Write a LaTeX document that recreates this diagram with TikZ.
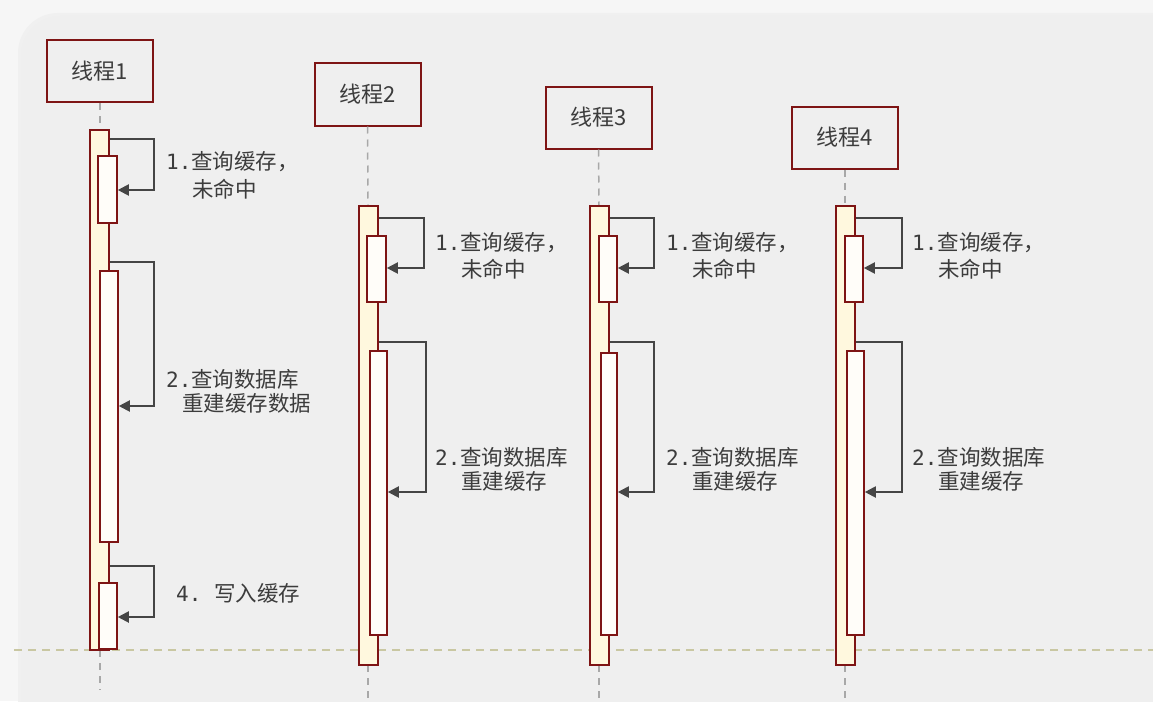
\documentclass[tikz,border=0pt]{standalone}
\usepackage{fontspec}
\newfontfamily\cjk{Noto Sans CJK SC}
\newfontfamily\mono{DejaVu Sans Mono}
\usetikzlibrary{arrows.meta}
\definecolor{pagebg}{HTML}{F6F6F6}
\definecolor{panelbg}{HTML}{EFEFEF}
\definecolor{barred}{HTML}{7E1414}
\definecolor{barfill}{HTML}{FFF8DE}
\definecolor{innerfill}{HTML}{FFFDF9}
\definecolor{txt}{HTML}{3C3C3C}
\definecolor{arr}{HTML}{454545}
\definecolor{lifegray}{HTML}{A8A8A8}
\definecolor{khaki}{HTML}{C9C7A2}
\newcommand{\nm}[1]{{\mono\fontsize{21}{24}\selectfont #1}}
\tikzset{
  head/.style={draw=barred, line width=2pt, fill=panelbg, minimum width=106pt, minimum height=62pt, inner sep=0pt, font=\cjk\fontsize{22}{26}\selectfont, text=txt},
  outerbar/.style={draw=barred, line width=1.6pt, fill=barfill, inner sep=0pt},
  innerbar/.style={draw=barred, line width=1.6pt, fill=innerfill, inner sep=0pt},
  life/.style={draw=lifegray, line width=1.5pt, dash pattern=on 7pt off 6pt},
  msg/.style={draw=arr, line width=2pt, -{Triangle[length=11pt,width=11pt]}},
  lbl/.style={anchor=west, inner sep=0pt, font=\cjk\fontsize{21.5}{24}\selectfont, text=txt}
}
\begin{document}
\begin{tikzpicture}[x=1pt,y=-1pt]
\useasboundingbox (0,0) rectangle (1153,701);
\fill[pagebg] (0,0) rectangle (1153,701);
\fill[black!6, rounded corners=40pt] (18,13) rectangle (1200,760);
\fill[panelbg, rounded corners=40pt] (21,16) rectangle (1200,760);
% horizontal dashed line
\draw[khaki, line width=1.3pt, dash pattern=on 8pt off 6pt] (14,650) -- (1153,650);

% ---------- Thread 1 ----------
\node[head] (h1) at (100,71) {线程1};
\coordinate (e1) at (100,690);
\draw[life] (h1.south) -- (100,130);
\draw[life] (100,650) -- (e1);
\node[outerbar, minimum width=19pt, minimum height=520pt] (o1) at (99.5,390) {};
\node[innerbar, minimum width=19pt, minimum height=67pt] (i11) at (107.5,189.5) {};
\node[innerbar, minimum width=18pt, minimum height=271pt] (i12) at (109,406.5) {};
\node[innerbar, minimum width=18pt, minimum height=66pt] (i13) at (108,616) {};
\draw[msg] (o1.east |- 0,139) -- (154,139) |- (i11.east |- 0,190);
\draw[msg] (o1.east |- 0,262) -- (154,262) |- (i12.east |- 0,406);
\draw[msg] (o1.east |- 0,566) -- (154,566) |- (i13.east |- 0,617);
\node[lbl] (l11) at (166,162) {\nm{1.}查询缓存，};
\node[lbl] (l12) at (192,189) {未命中};
\node[lbl] (l13) at (166,379) {\nm{2.}查询数据库};
\node[lbl] (l14) at (182,403) {重建缓存数据};
\node[lbl] (l15) at (176,593) {\nm{4.\ }写入缓存};

% ---------- Thread 2 ----------
\node[head] (h2) at (367.5,94.5) {线程2};
\coordinate (e2) at (368,701);
\draw[life] (h2.south) -- (368,206);
\draw[life] (368,665) -- (e2);
\node[outerbar, minimum width=19pt, minimum height=459pt] (o2) at (368.5,435.5) {};
\node[innerbar, minimum width=19pt, minimum height=66pt] (i21) at (376.5,269) {};
\node[innerbar, minimum width=17pt, minimum height=284pt] (i22) at (378.5,493) {};
\draw[msg] (o2.east |- 0,218) -- (424,218) |- (i21.east |- 0,268);
\draw[msg] (o2.east |- 0,342) -- (426,342) |- (i22.east |- 0,492);
\node[lbl] (l21) at (435,243) {\nm{1.}查询缓存，};
\node[lbl] (l22) at (461,269) {未命中};
\node[lbl] (l23) at (435,457) {\nm{2.}查询数据库};
\node[lbl] (l24) at (461,481) {重建缓存};

% ---------- Thread 3 ----------
\node[head] (h3) at (598.5,117.5) {线程3};
\coordinate (e3) at (599,701);
\draw[life] (h3.south) -- (599,206);
\draw[life] (599,665) -- (e3);
\node[outerbar, minimum width=19pt, minimum height=459pt] (o3) at (599.5,435.5) {};
\node[innerbar, minimum width=18pt, minimum height=66pt] (i31) at (608,269) {};
\node[innerbar, minimum width=16pt, minimum height=282pt] (i32) at (609,494) {};
\draw[msg] (o3.east |- 0,218) -- (654,218) |- (i31.east |- 0,268);
\draw[msg] (o3.east |- 0,342) -- (654,342) |- (i32.east |- 0,492);
\node[lbl] (l31) at (666,243) {\nm{1.}查询缓存，};
\node[lbl] (l32) at (692,269) {未命中};
\node[lbl] (l33) at (666,457) {\nm{2.}查询数据库};
\node[lbl] (l34) at (692,481) {重建缓存};

% ---------- Thread 4 ----------
\node[head] (h4) at (845,137.5) {线程4};
\coordinate (e4) at (845,701);
\draw[life] (h4.south) -- (845,206);
\draw[life] (845,665) -- (e4);
\node[outerbar, minimum width=19pt, minimum height=459pt] (o4) at (845.5,435.5) {};
\node[innerbar, minimum width=18pt, minimum height=66pt] (i41) at (854,269) {};
\node[innerbar, minimum width=17pt, minimum height=284pt] (i42) at (855.5,493) {};
\draw[msg] (o4.east |- 0,218) -- (902,218) |- (i41.east |- 0,268);
\draw[msg] (o4.east |- 0,342) -- (902,342) |- (i42.east |- 0,492);
\node[lbl] (l41) at (912,243) {\nm{1.}查询缓存，};
\node[lbl] (l42) at (938,269) {未命中};
\node[lbl] (l43) at (912,457) {\nm{2.}查询数据库};
\node[lbl] (l44) at (938,481) {重建缓存};
\end{tikzpicture}
\end{document}
